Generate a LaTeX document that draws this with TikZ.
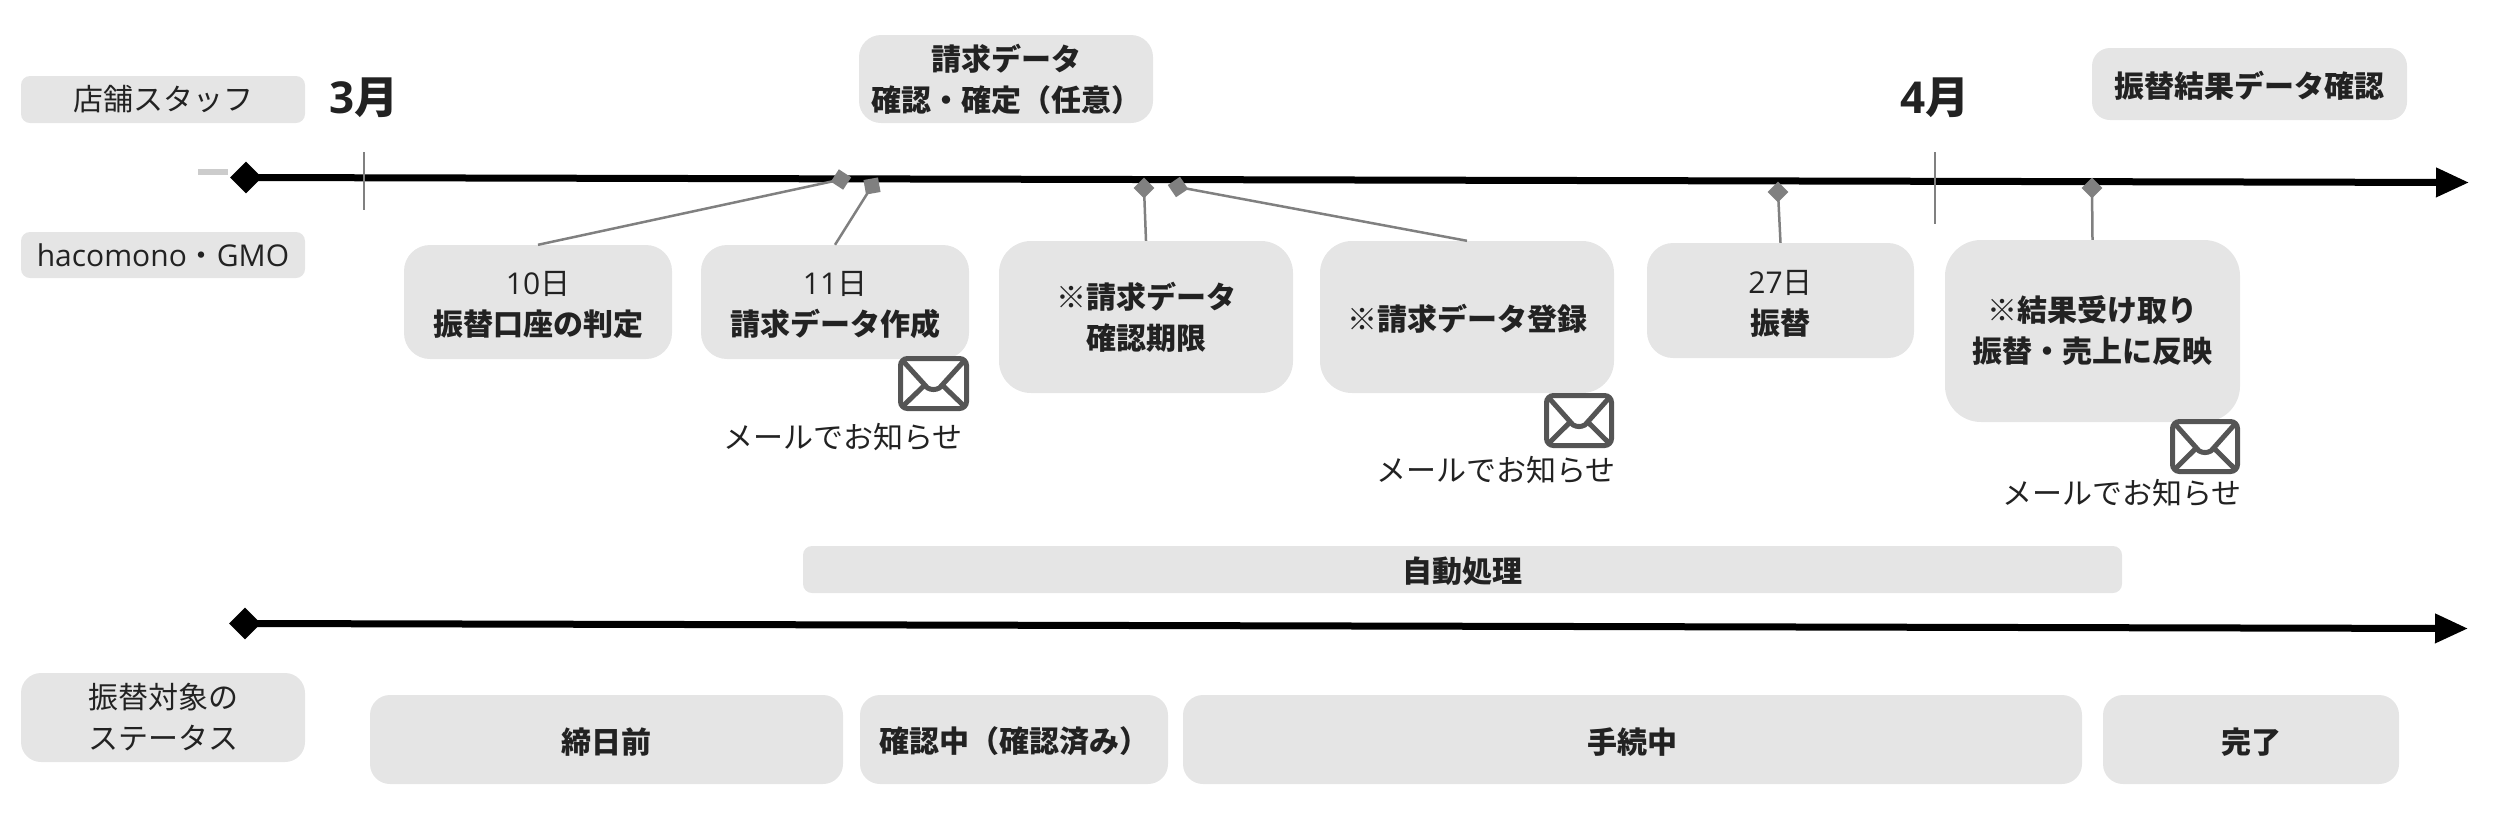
\documentclass[tikz,border=0pt]{standalone}
\usepackage{fontspec}
\usetikzlibrary{shapes.geometric,arrows.meta}
\setmainfont{Noto Sans CJK JP}
\newfontfamily\lat{Open Sans}
\definecolor{boxgray}{HTML}{E5E5E5}
\definecolor{txt}{HTML}{222222}
\definecolor{conn}{HTML}{808080}
\definecolor{iconc}{HTML}{555555}
\newcommand{\dn}{\rule{0pt}{30pt}}
\newcommand{\rawbox}[8]{% name x1 y1 x2 y2 radius style text
  \node[boxn,#7,rounded corners=#6pt,minimum width={(#4-#2)*1pt},minimum height={(#5-#3)*1pt}] (#1) at ({(#2+#4)/2},{(#3+#5)/2}) {#8};}
\newcommand{\mailicon}[4]{% x1 y1 x2 y2
  \draw[iconc,line width=5pt,rounded corners=7pt] (#1+2.5,#2+2.5) rectangle (#3-2.5,#4-2.5);
  \draw[iconc,line width=5pt,line join=round] (#1+5,#2+5) -- ({(#1+#3)/2-6},{#2+(#4-#2)*0.58}) .. controls ({(#1+#3)/2-2},{#2+(#4-#2)*0.62}) and ({(#1+#3)/2+2},{#2+(#4-#2)*0.62}) .. ({(#1+#3)/2+6},{#2+(#4-#2)*0.58}) -- (#3-5,#2+5);
  \draw[iconc,line width=5pt] ({(#1+#3)/2-10},{#2+(#4-#2)*0.55}) -- (#1+5,#4-5);
  \draw[iconc,line width=5pt] ({(#1+#3)/2+10},{#2+(#4-#2)*0.55}) -- (#3-5,#4-5);
}
\tikzset{
  boxn/.style={fill=boxgray,draw=none,inner sep=0pt,align=center,text=txt},
  reg/.style={font=\fontsize{30}{41}\selectfont},
  bld/.style={font=\fontsize{30}{41}\selectfont\bfseries},
  plain/.style={inner sep=0pt,align=center,text=txt},
  month/.style={plain,font=\fontsize{44}{50}\selectfont\bfseries},
  startd/.style={shape=diamond,fill=black,inner sep=0pt,minimum width=32pt,minimum height=32pt},
  smalld/.style={shape=diamond,fill=conn,inner sep=0pt,minimum width=21pt,minimum height=21pt},
  axisl/.style={line width=7pt,-{Triangle[length=33pt,width=28pt]}},
  conl/.style={conn,line width=2.5pt},
  tickl/.style={conn,line width=2pt},
}
\begin{document}
\begin{tikzpicture}[x=1pt,y=-1pt]
\useasboundingbox (0,0) rectangle (2498,820);
% axes
\node[startd] (s1) at (246,177.5) {};
\coordinate (e1) at (2469,182.5);
\node[startd] (s2) at (245,623.5) {};
\coordinate (e2) at (2468,628.5);
\draw[axisl] (s1.center) -- (e1);
\draw[axisl] (s2.center) -- (e2);
\fill[black!20] (198,169) rectangle (228,175);
% ticks
\coordinate (t3a) at (364,152); \coordinate (t3b) at (364,210);
\coordinate (t4a) at (1935,152); \coordinate (t4b) at (1935,224);
\draw[tickl] (t3a) -- (t3b);
\draw[tickl] (t4a) -- (t4b);
\node[month] (m3) at (364,98) {{\lat 3}月};
\node[month] (m4) at (1935,98) {{\lat 4}月};
% left labels
\rawbox{staff}{21}{76}{305}{123}{9}{reg}{店舗スタッフ}
\rawbox{hgmo}{21}{232}{305}{278}{9}{reg}{{\lat hacomono}・{\lat GMO}}
\rawbox{status}{21}{673}{305}{762}{20}{reg}{振替対象の\\ステータス}
% top boxes
\rawbox{top1}{859}{35}{1153}{123}{22}{bld}{請求データ\\確認・確定（任意）}
\rawbox{top2}{2092}{48}{2407}{120}{18}{bld}{\dn 振替結果データ確認}
% event boxes
\rawbox{b10}{404}{245}{672}{359}{26}{bld}{\dn{\mdseries\lat 10}{\mdseries 日}\\振替口座の判定}
\rawbox{b11}{701}{245}{969}{359}{26}{bld}{\dn{\mdseries\lat 11}{\mdseries 日}\\請求データ作成}
\rawbox{b12}{999}{241}{1293}{393}{32}{bld}{※請求データ\\確認期限}
\rawbox{b13}{1320}{241}{1614}{393}{32}{bld}{\dn ※請求データ登録}
\rawbox{b27}{1647}{243}{1914}{358}{26}{bld}{\dn{\mdseries\lat 27}{\mdseries 日}\\振替}
\rawbox{b28}{1945}{240}{2240}{422}{36}{bld}{※結果受け取り\\振替・売上に反映}
% auto
\rawbox{auto}{803}{546}{2122}{593}{9}{bld}{\dn 自動処理}
% status boxes
\rawbox{s0}{370}{695}{843}{784}{20}{bld}{\dn 締日前}
\rawbox{s1b}{860}{695}{1168}{784}{20}{bld}{\dn 確認中（確認済み）}
\rawbox{s2b}{1183}{695}{2082}{784}{20}{bld}{\dn 手続中}
\rawbox{s3b}{2103}{695}{2399}{784}{20}{bld}{\dn 完了}
% markers
\node[smalld,rotate=12] (d1) at (841,179.5) {};
\node[smalld,rotate=-35] (d2) at (872,186) {};
\node[smalld] (d3) at (1144,188) {};
\node[smalld,rotate=-11] (d4) at (1178,187) {};
\node[smalld] (d5) at (1778,192) {};
\node[smalld] (d6) at (2092,188) {};
\draw[conl] (d1.center) -- (b10.north);
\draw[conl] (d2.center) -- (b11.north);
\draw[conl] (d3.center) -- (b12.north);
\draw[conl] (d4.center) -- (b13.north);
\draw[conl] (d5.center) -- (b27.north);
\draw[conl] (d6.center) -- (b28.north);
% mail
\mailicon{898}{356}{969}{411}
\mailicon{1544}{393}{1614}{448}
\mailicon{2170}{419}{2240}{474}
\node[plain,font=\fontsize{30}{41}\selectfont] (n1) at (843,437) {メールでお知らせ};
\node[plain,font=\fontsize{30}{41}\selectfont] (n2) at (1496,470) {メールでお知らせ};
\node[plain,font=\fontsize{30}{41}\selectfont] (n3) at (2122,493) {メールでお知らせ};
\end{tikzpicture}
\end{document}
